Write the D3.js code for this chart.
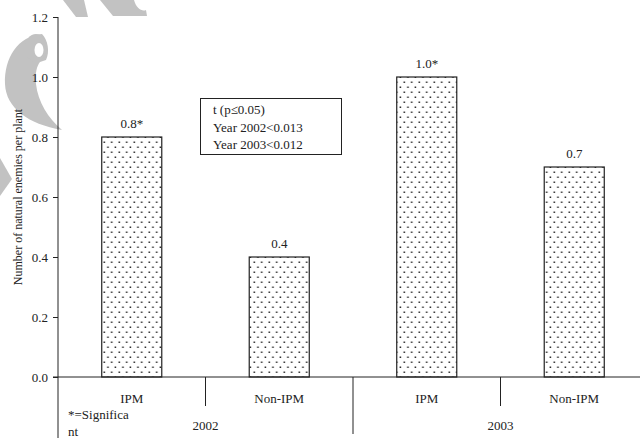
<!DOCTYPE html>
<html>
<head>
<meta charset="utf-8">
<script src="https://cdn.jsdelivr.net/npm/d3@7"></script>
<style>
  body { margin: 0; background: #fff; }
</style>
</head>
<body>
<svg id="chart" width="640" height="438"></svg>
<script>
// chart data
const treatments = ['IPM', 'Non-IPM', 'IPM', 'Non-IPM'];
const years = ['2002', '2003'];
const enemies = [0.8, 0.4, 1.0, 0.7];
const barLabels = ['0.8*', '0.4', '1.0*', '0.7'];
const yTicks = [0.0, 0.2, 0.4, 0.6, 0.8, 1.0, 1.2];
const noteLines = ['t (p\u22640.05)', 'Year 2002<0.013', 'Year 2003<0.012'];

const svg = d3.select('#chart');

// watermark shapes (light grey, behind everything)
const wm = svg.append('g').attr('fill', '#c2c2c2');
wm.append('path').attr('d',
  'M42,34 C18,36 4,58 5,84 C6,108 28,124 62,130 C48,118 38,102 36,84 C35,72 37,66 40,62 L46,60 C50,52 48,40 42,34 Z');
wm.append('ellipse').attr('cx', 36).attr('cy', 48).attr('rx', 11).attr('ry', 14);
wm.append('ellipse').attr('cx', 39).attr('cy', 50).attr('rx', 4.5).attr('ry', 7).attr('fill', '#fff');
wm.append('path').attr('d', 'M0,158 L12,179 L0,196 Z');
wm.append('path').attr('d', 'M63,0 L84,0 L88,17 L76,17 Z');
wm.append('path').attr('d', 'M100,0 L134,0 C136,8 142,12 146,10 L147,16 L113,16 Z');

// scales
const x = d3.scaleBand()
  .domain(d3.range(treatments.length))
  .range([58, 648])
  .paddingInner(0.593)
  .paddingOuter(0.2965);

const y = d3.scaleLinear().domain([0, 1.2]).range([377, 17]);

// dotted fill pattern
const defs = svg.append('defs');
const pat = defs.append('pattern')
  .attr('id', 'dots')
  .attr('patternUnits', 'userSpaceOnUse')
  .attr('width', 7.5)
  .attr('height', 10)
  .attr('x', 102)
  .attr('y', 0);
pat.append('rect').attr('width', 7.5).attr('height', 10).attr('fill', '#fff');
pat.append('rect').attr('x', 1.5).attr('y', 1.5).attr('width', 1.5).attr('height', 1.5).attr('fill', '#222');
pat.append('rect').attr('x', 5.2).attr('y', 6.5).attr('width', 1.5).attr('height', 1.5).attr('fill', '#222');

// bars
svg.append('g')
  .selectAll('rect')
  .data(enemies)
  .join('rect')
  .attr('x', (d, i) => x(i))
  .attr('y', d => y(d))
  .attr('width', x.bandwidth())
  .attr('height', d => y(0) - y(d))
  .attr('fill', 'url(#dots)')
  .attr('stroke', '#222')
  .attr('stroke-width', 1.2);

// value labels
svg.append('g')
  .selectAll('text')
  .data(enemies)
  .join('text')
  .attr('x', (d, i) => x(i) + x.bandwidth() / 2)
  .attr('y', d => y(d) - 9)
  .attr('text-anchor', 'middle')
  .text((d, i) => barLabels[i]);

// y axis
const yAxis = d3.axisLeft(y)
  .tickValues(yTicks)
  .tickFormat(d3.format('.1f'))
  .tickSize(5)
  .tickPadding(5);

const gy = svg.append('g').attr('transform', 'translate(58,0)').call(yAxis);
gy.select('.domain').remove();
gy.selectAll('text').attr('fill', '#222');
gy.selectAll('line').attr('stroke', '#222');

// axis lines
svg.append('line').attr('x1', 58).attr('x2', 58).attr('y1', 17).attr('y2', 438).attr('stroke', '#222');
svg.append('line').attr('x1', 53).attr('x2', 648).attr('y1', y(0)).attr('y2', y(0)).attr('stroke', '#222');

// category separators
const step = x.step();
const seps = [1, 2, 3];
svg.append('g')
  .selectAll('line')
  .data(seps)
  .join('line')
  .attr('x1', d => 58 + d * step)
  .attr('x2', d => 58 + d * step)
  .attr('y1', y(0))
  .attr('y2', d => (d === 2 ? 434 : 406))
  .attr('stroke', '#222');

// treatment labels
svg.append('g')
  .selectAll('text')
  .data(treatments)
  .join('text')
  .attr('x', (d, i) => x(i) + x.bandwidth() / 2)
  .attr('y', 403)
  .attr('text-anchor', 'middle')
  .text(d => d);

// year labels
svg.append('g')
  .selectAll('text')
  .data(years)
  .join('text')
  .attr('x', (d, i) => 58 + step * (1 + 2 * i))
  .attr('y', 430)
  .attr('text-anchor', 'middle')
  .text(d => d);

// significance note
svg.append('text').attr('x', 68).attr('y', 419).text('*=Significa');
svg.append('text').attr('x', 68).attr('y', 436).text('nt');

// y axis title
svg.append('text')
  .attr('class', 'ytitle')
  .attr('transform', 'translate(22,197) rotate(-90)')
  .attr('text-anchor', 'middle')
  .text('Number of natural enemies per plant');

// stats box
svg.append('rect')
  .attr('x', 200.5).attr('y', 98.5)
  .attr('width', 141).attr('height', 56)
  .attr('fill', '#fff').attr('stroke', '#222');

svg.append('g')
  .selectAll('text')
  .data(noteLines)
  .join('text')
  .attr('x', 213)
  .attr('y', (d, i) => 114 + i * 17.5)
  .text(d => d);

// one font for every text
svg.selectAll('text')
  .style('font-family', "'Liberation Serif'")
  .style('font-size', '13px')
  .attr('fill', '#222');
svg.select('.ytitle').style('font-size', '12px');
</script>
</body>
</html>
